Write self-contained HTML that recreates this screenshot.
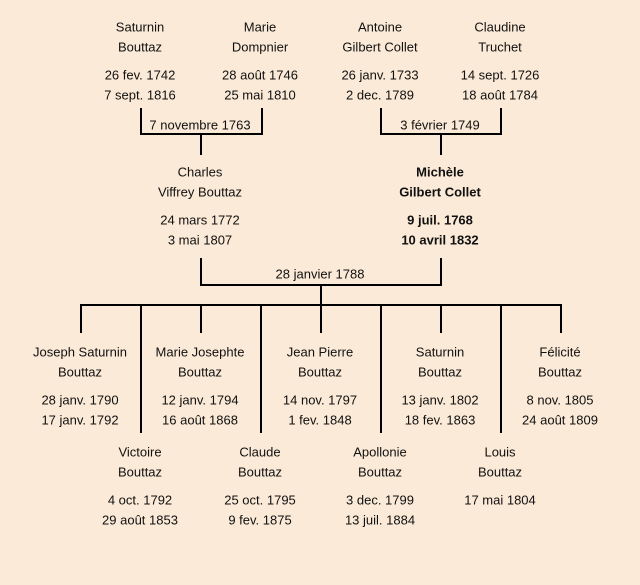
<!DOCTYPE html>
<html><head><meta charset="utf-8"><style>
body{margin:0;width:640px;height:585px;background:#fbead7;position:relative;overflow:hidden;font-family:"Liberation Sans",sans-serif;font-size:13px;color:#111}
.t{position:absolute;white-space:nowrap;transform:translate(-50%,-50%);line-height:1}
.b{font-weight:bold}
.l{position:absolute;background:#000}
</style></head><body>
<div class="t" style="left:140px;top:27px">Saturnin</div><div class="t" style="left:140px;top:47px">Bouttaz</div><div class="t" style="left:140px;top:75px">26 fev. 1742</div><div class="t" style="left:140px;top:95px">7 sept. 1816</div>
<div class="t" style="left:260px;top:27px">Marie</div><div class="t" style="left:260px;top:47px">Dompnier</div><div class="t" style="left:260px;top:75px">28 août 1746</div><div class="t" style="left:260px;top:95px">25 mai 1810</div>
<div class="t" style="left:380px;top:27px">Antoine</div><div class="t" style="left:380px;top:47px">Gilbert Collet</div><div class="t" style="left:380px;top:75px">26 janv. 1733</div><div class="t" style="left:380px;top:95px">2 dec. 1789</div>
<div class="t" style="left:500px;top:27px">Claudine</div><div class="t" style="left:500px;top:47px">Truchet</div><div class="t" style="left:500px;top:75px">14 sept. 1726</div><div class="t" style="left:500px;top:95px">18 août 1784</div>
<div class="l" style="left:140px;top:108px;width:2px;height:27px"></div><div class="l" style="left:261px;top:108px;width:2px;height:27px"></div><div class="l" style="left:140px;top:133px;width:123px;height:2px"></div><div class="l" style="left:200px;top:133px;width:2px;height:22px"></div>
<div class="t" style="left:200px;top:125px">7 novembre 1763</div>
<div class="l" style="left:380px;top:108px;width:2px;height:27px"></div><div class="l" style="left:500px;top:108px;width:2px;height:27px"></div><div class="l" style="left:380px;top:133px;width:122px;height:2px"></div><div class="l" style="left:440px;top:133px;width:2px;height:22px"></div>
<div class="t" style="left:440px;top:125px">3 février 1749</div>
<div class="t" style="left:200px;top:172px">Charles</div><div class="t" style="left:200px;top:192px">Viffrey Bouttaz</div><div class="t" style="left:200px;top:220px">24 mars 1772</div><div class="t" style="left:200px;top:240px">3 mai 1807</div>
<div class="t b" style="left:440px;top:172px">Michèle</div><div class="t b" style="left:440px;top:192px">Gilbert Collet</div><div class="t b" style="left:440px;top:220px">9 juil. 1768</div><div class="t b" style="left:440px;top:240px">10 avril 1832</div>
<div class="l" style="left:200px;top:258px;width:2px;height:28px"></div><div class="l" style="left:440px;top:258px;width:2px;height:28px"></div><div class="l" style="left:200px;top:284px;width:242px;height:2px"></div><div class="l" style="left:320px;top:284px;width:2px;height:22px"></div>
<div class="t" style="left:320px;top:274px">28 janvier 1788</div>
<div class="l" style="left:80px;top:304px;width:482px;height:2px"></div>
<div class="l" style="left:80px;top:304px;width:2px;height:29px"></div><div class="l" style="left:200px;top:304px;width:2px;height:29px"></div><div class="l" style="left:320px;top:304px;width:2px;height:29px"></div><div class="l" style="left:440px;top:304px;width:2px;height:29px"></div><div class="l" style="left:560px;top:304px;width:2px;height:29px"></div>
<div class="l" style="left:140px;top:304px;width:2px;height:129px"></div><div class="l" style="left:260px;top:304px;width:2px;height:129px"></div><div class="l" style="left:380px;top:304px;width:2px;height:129px"></div><div class="l" style="left:500px;top:304px;width:2px;height:129px"></div>
<div class="t" style="left:80px;top:352px">Joseph Saturnin</div><div class="t" style="left:80px;top:372px">Bouttaz</div><div class="t" style="left:80px;top:400px">28 janv. 1790</div><div class="t" style="left:80px;top:420px">17 janv. 1792</div>
<div class="t" style="left:200px;top:352px">Marie Josephte</div><div class="t" style="left:200px;top:372px">Bouttaz</div><div class="t" style="left:200px;top:400px">12 janv. 1794</div><div class="t" style="left:200px;top:420px">16 août 1868</div>
<div class="t" style="left:320px;top:352px">Jean Pierre</div><div class="t" style="left:320px;top:372px">Bouttaz</div><div class="t" style="left:320px;top:400px">14 nov. 1797</div><div class="t" style="left:320px;top:420px">1 fev. 1848</div>
<div class="t" style="left:440px;top:352px">Saturnin</div><div class="t" style="left:440px;top:372px">Bouttaz</div><div class="t" style="left:440px;top:400px">13 janv. 1802</div><div class="t" style="left:440px;top:420px">18 fev. 1863</div>
<div class="t" style="left:560px;top:352px">Félicité</div><div class="t" style="left:560px;top:372px">Bouttaz</div><div class="t" style="left:560px;top:400px">8 nov. 1805</div><div class="t" style="left:560px;top:420px">24 août 1809</div>
<div class="t" style="left:140px;top:452px">Victoire</div><div class="t" style="left:140px;top:472px">Bouttaz</div><div class="t" style="left:140px;top:500px">4 oct. 1792</div><div class="t" style="left:140px;top:520px">29 août 1853</div>
<div class="t" style="left:260px;top:452px">Claude</div><div class="t" style="left:260px;top:472px">Bouttaz</div><div class="t" style="left:260px;top:500px">25 oct. 1795</div><div class="t" style="left:260px;top:520px">9 fev. 1875</div>
<div class="t" style="left:380px;top:452px">Apollonie</div><div class="t" style="left:380px;top:472px">Bouttaz</div><div class="t" style="left:380px;top:500px">3 dec. 1799</div><div class="t" style="left:380px;top:520px">13 juil. 1884</div>
<div class="t" style="left:500px;top:452px">Louis</div><div class="t" style="left:500px;top:472px">Bouttaz</div><div class="t" style="left:500px;top:500px">17 mai 1804</div>
</body></html>
